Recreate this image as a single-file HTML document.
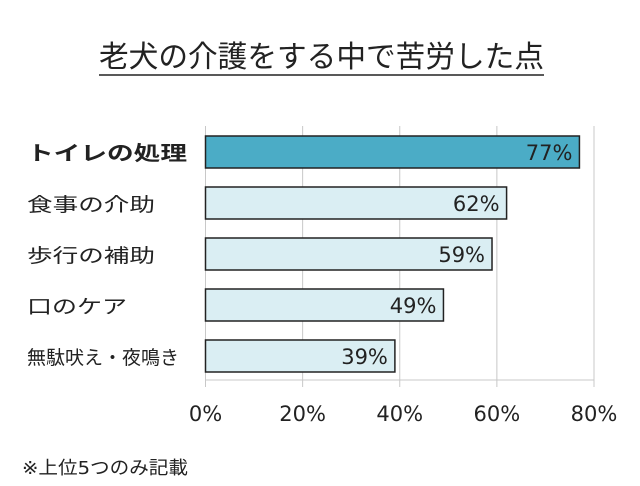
<!DOCTYPE html>
<html><head><meta charset="utf-8"><style>
body{margin:0;background:#fff;}
svg{display:block;font-family:"DejaVu Sans","Noto Sans CJK JP",sans-serif;}
</style></head><body>
<svg width="640" height="486" viewBox="0 0 640 486">
<text x="99" y="67" font-size="30" fill="#222" textLength="445" lengthAdjust="spacingAndGlyphs">老犬の介護をする中で苦労した点</text>
<line x1="99" y1="75" x2="544" y2="75" stroke="#222" stroke-width="1.5"/>
<g id="grid"></g><g id="bars"></g><g id="labels"></g>
<text x="22" y="474" font-size="18" fill="#222" textLength="166" lengthAdjust="spacingAndGlyphs">※上位5つのみ記載</text>
<script>
const categories=["トイレの処理","食事の介助","歩行の補助","口のケア","無駄吠え・夜鳴き"];
const values=[77,62,59,49,39];
const ticks=[0,20,40,60,80];
const tickLabels=["0%","20%","40%","60%","80%"];
const labelLengths=[160,128,128,100,152];
const NS="http://www.w3.org/2000/svg";
const x=v=>205.5+v*(594-205.5)/80;
const y=i=>136+i*51;
function mk(t,a,p){const e=document.createElementNS(NS,t);for(const k in a)e.setAttribute(k,a[k]);p.appendChild(e);return e;}
const g=document.getElementById('grid'),b=document.getElementById('bars'),l=document.getElementById('labels');
ticks.forEach((t,i)=>{
 const ln=mk('line',{x1:x(t),x2:x(t),y1:126,y2:387,stroke:'#c8c8c8','stroke-width':1},g);
 
 
 const tx=mk('text',{x:x(t),y:421,'text-anchor':'middle','font-size':21,fill:'#222'},l);
 tx.textContent=tickLabels[i];
 
 
});
const ax=mk('line',{x1:x(0),x2:x(80),y1:380,y2:380,stroke:'#c8c8c8','stroke-width':1},g);


categories.forEach((c,i)=>{
 const r=mk('rect',{x:x(0),y:y(i),width:x(values[i])-x(0),height:32,fill:i===0?'#4BACC6':'#DAEEF3',stroke:'#222','stroke-width':1.5},b);
 
 
 const v=mk('text',{x:x(values[i])-7,y:y(i)+24,'text-anchor':'end','font-size':21,fill:'#222'},l);
 v.textContent=values[i]+'%';
 
 
 const ct=mk('text',{x:27,y:y(i)+24,'font-size':i===0?20:19,'font-weight':i===0?'bold':'normal',fill:'#222',textLength:labelLengths[i],lengthAdjust:'spacingAndGlyphs'},l);
 ct.textContent=c;
 
 
});
</script>
</svg>
</body></html>
